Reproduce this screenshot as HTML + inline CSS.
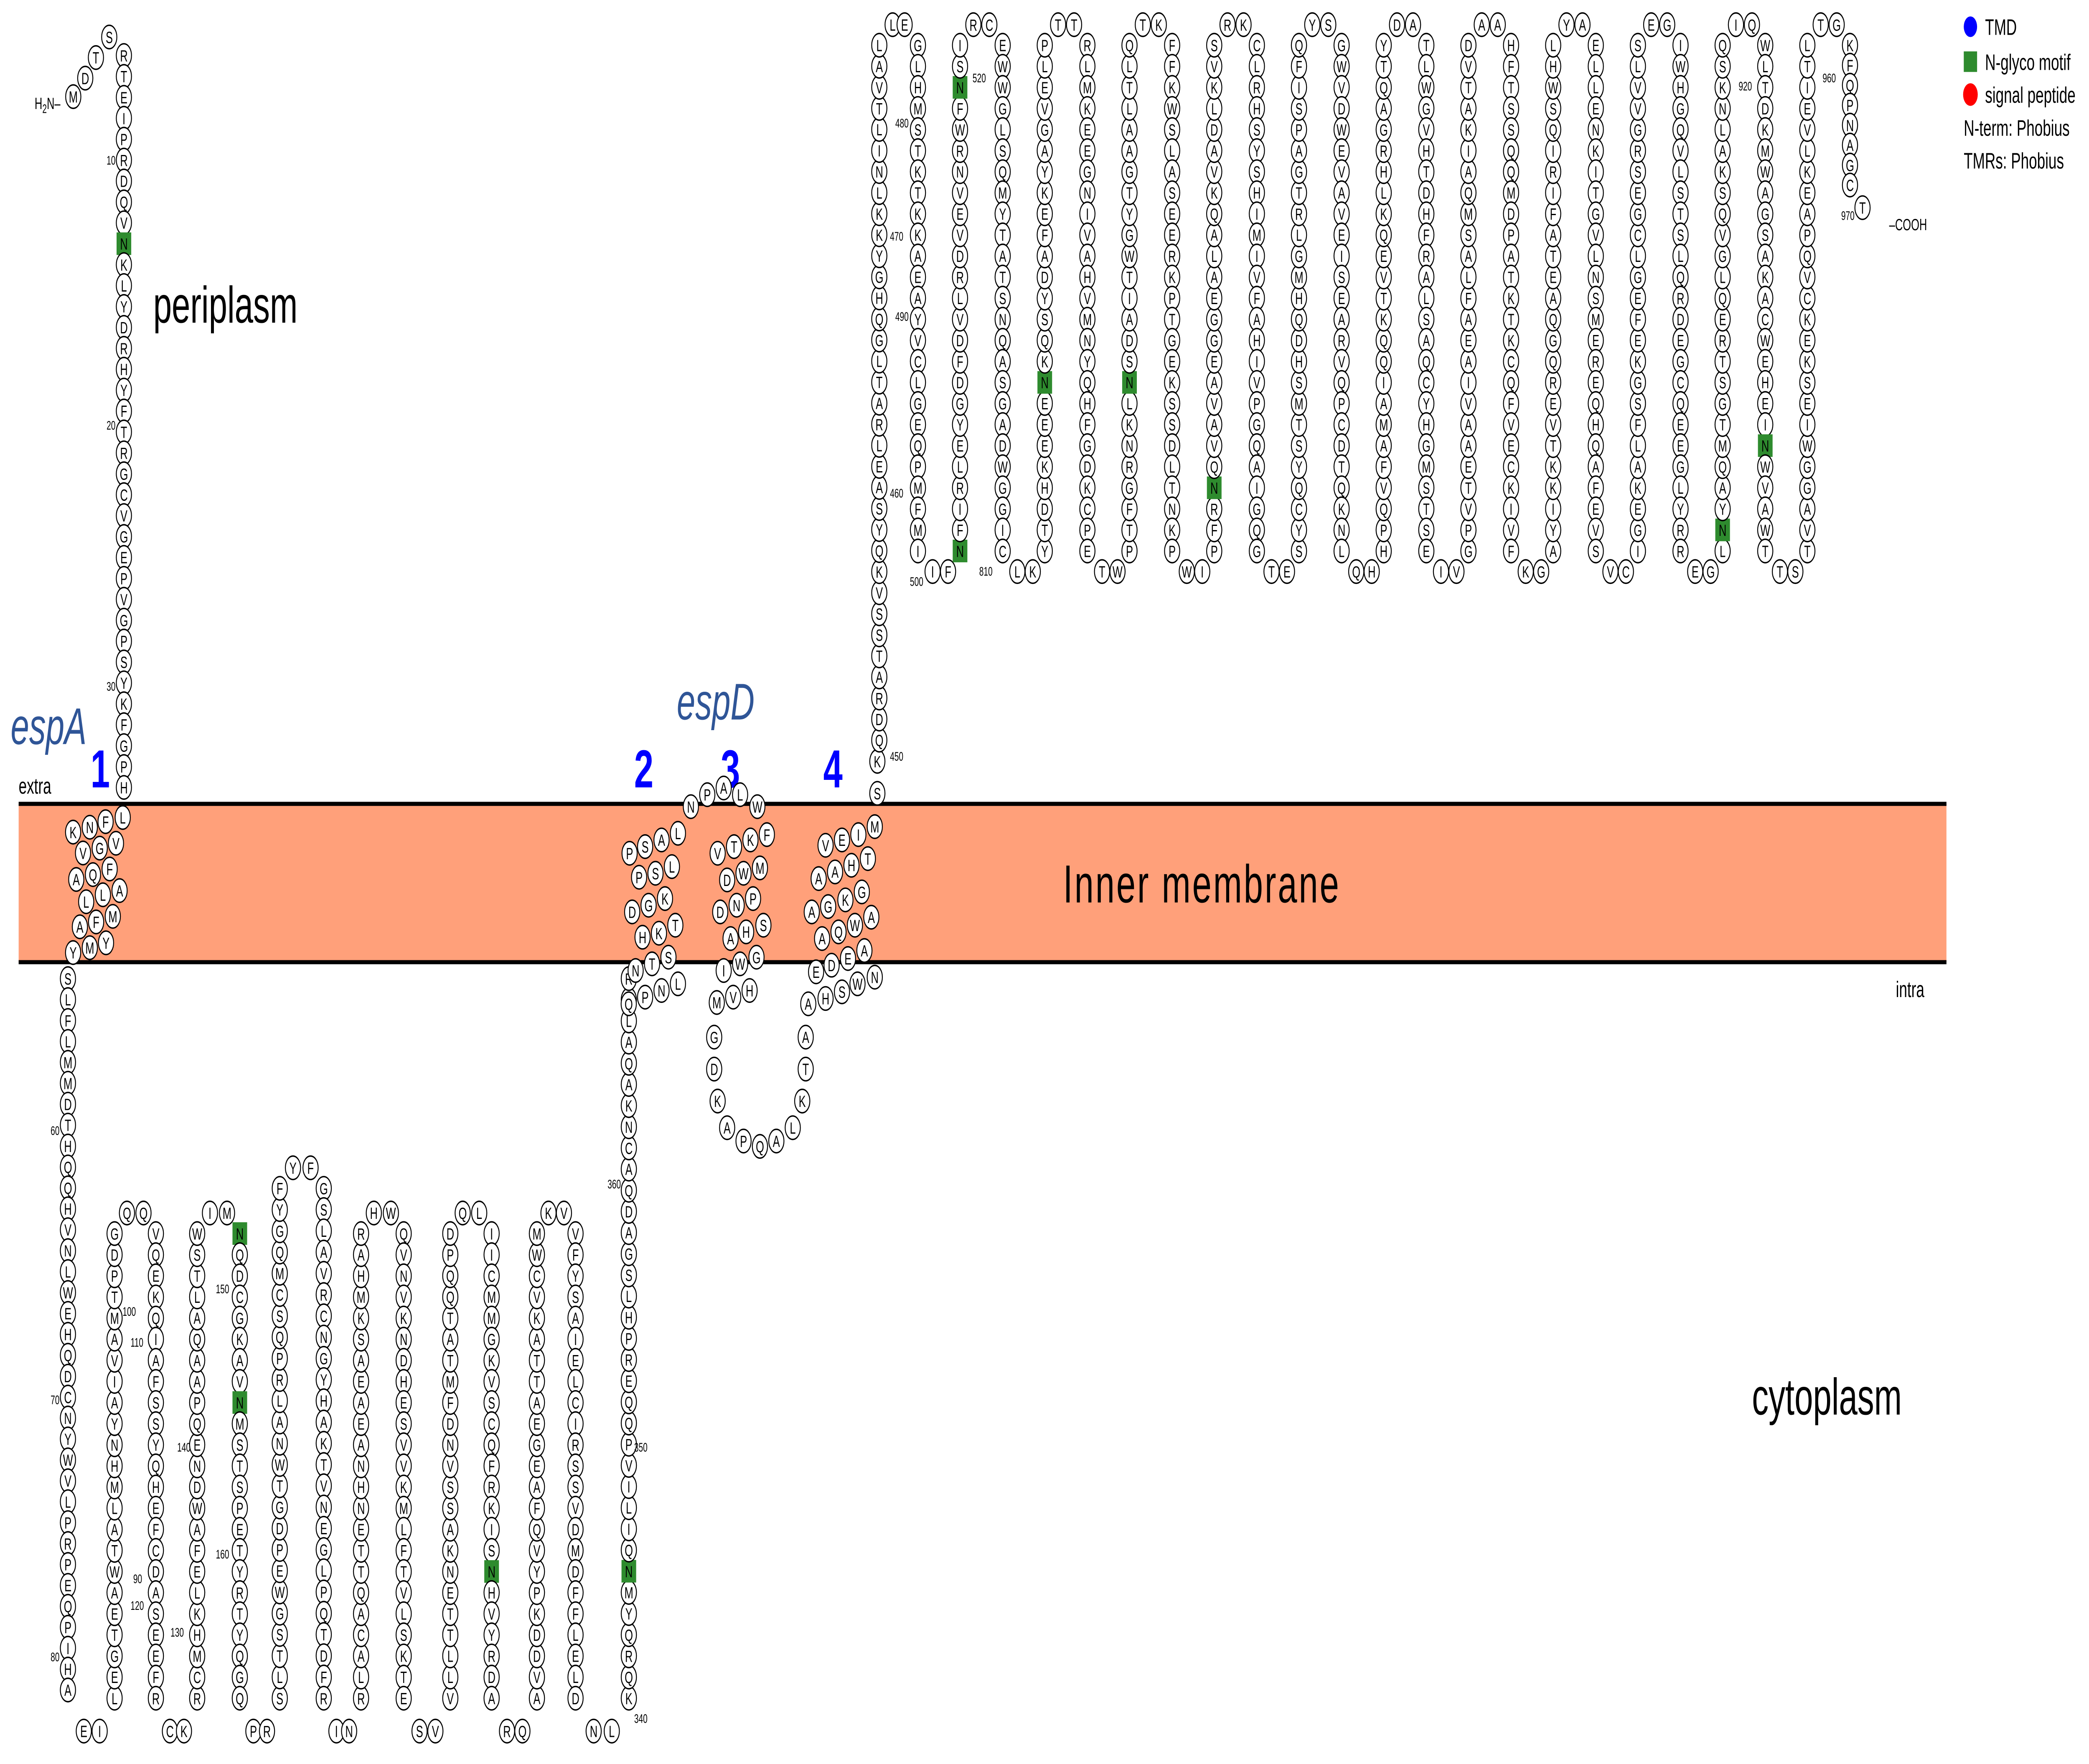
<!DOCTYPE html>
<html><head><meta charset="utf-8">
<style>
html,body{margin:0;padding:0;background:#fff;width:100%;height:100%;overflow:hidden;}
svg{display:block;position:absolute;left:0;top:0;width:100vw;height:100vh;}
text{font-family:"Liberation Sans",sans-serif;}
</style></head>
<body>
<svg id="s" xmlns="http://www.w3.org/2000/svg" viewBox="0 0 1568 858" preserveAspectRatio="none">
<rect x="0" y="0" width="1568" height="858" fill="#fff"/>
<rect x="14" y="391" width="1447" height="77" fill="#FFA07A"/>
<line x1="14" y1="391" x2="1461" y2="391" stroke="#000" stroke-width="2"/>
<line x1="14" y1="468" x2="1461" y2="468" stroke="#000" stroke-width="2"/>
<text x="798" y="439" font-size="26" textLength="207">Inner membrane</text>
<text x="115" y="157" font-size="25">periplasm</text>
<text x="1315" y="688" font-size="25">cytoplasm</text>
<text x="8" y="362" font-size="25" font-style="italic" fill="#2F5597">espA</text>
<text x="508" y="350" font-size="25" font-style="italic" fill="#2F5597">espD</text>
<text x="68" y="383" font-size="26" font-weight="bold" fill="#0000FF">1</text>
<text x="476" y="383" font-size="26" font-weight="bold" fill="#0000FF">2</text>
<text x="541" y="383" font-size="26" font-weight="bold" fill="#0000FF">3</text>
<text x="618" y="383" font-size="26" font-weight="bold" fill="#0000FF">4</text>
<text x="14" y="386" font-size="11">extra</text>
<text x="1423" y="485" font-size="11">intra</text>
<text x="26" y="53" font-size="8">H<tspan font-size="6" dy="2">2</tspan><tspan dy="-2">N–</tspan></text>
<text x="1418" y="112" font-size="8">–COOH</text>
<circle cx="1479" cy="13" r="5" fill="#0000FF"/>
<text x="1490" y="17" font-size="11">TMD</text>
<rect x="1474" y="25" width="10" height="10" fill="#2E8B2E"/>
<text x="1490" y="34" font-size="11">N-glyco motif</text>
<circle cx="1479" cy="46" r="5.5" fill="#FF0000"/>
<text x="1490" y="50" font-size="11">signal peptide</text>
<text x="1474" y="66" font-size="11">N-term: Phobius</text>
<text x="1474" y="82" font-size="11">TMRs: Phobius</text>
<g id="res"></g>
</svg>
<script>
(function(){
var pts=[];
var AA="ACDEFGHIKLMNPQRSTVWYSALKEQTVG";
var seed=7;function rnd(){seed=(seed*9301+49297)%233280;return seed/233280;}
function add(x,y,l){pts.push([x,y,l||AA[Math.floor(rnd()*AA.length)]]);}
function col(x,y1,y2){var n=Math.round(Math.abs(y2-y1)/10.3);for(var i=0;i<=n;i++){add(x,y1+(y2-y1)*i/n);}}
var R=5.7;
add(55,47,"M");add(64,38,"D");add(72,28,"T");add(82,18,"S");
col(93,27,383);
var tm1=[[910,320,"L"],[720,350,"F"],[545,390,"N"],[360,425,"K"],[835,505,"V"],[655,540,"G"],[470,575,"V"],[765,690,"F"],[580,730,"Q"],[395,765,"A"],[875,845,"A"],[690,875,"L"],[505,925,"L"],[800,1030,"M"],[615,1070,"F"],[435,1105,"A"],[725,1220,"Y"],[545,1255,"M"],[360,1290,"Y"]];
tm1.forEach(function(p){add((150+p[0]/3)/4.921,(1850+p[1]/3)/4.921,p[2]);});
var cols=[51,86,117,148,180,210,243,271,303,338,369,403,432,472];
var tops={1:590,3:590,5:568,7:590,9:590,11:590};
col(51,476,822);
for(var i=1;i<cols.length;i++){
  var x=cols[i];
  if(i%2==1){
    var a=cols[i-1];
    add(a+(x-a)*0.34,842);add(a+(x-a)*0.68,842);
    var t=tops[i];col(x,826,t+10);
  } else {
    var a=cols[i-1];var t=tops[i-1];
    add(a+(x-a)*0.3,t);add(a+(x-a)*0.7,t);
    if(i!=cols.length-1) col(x,t+10,826);
  }
}
col(472,826,476);
var z2=[[40,380],[130,355],[225,330],[320,305],[95,470],[190,455],[285,430],[55,600],[150,575],[245,550],[305,650],[115,695],[210,680],[75,820],[170,795],[265,770],[35,945],[130,920],[225,895],[320,870],
[395,205,"N"],[490,160,"P"],[585,135,"A"],[680,160,"L"],[780,205,"W"],
[835,310],[740,330],[645,355],[550,380],[795,435],[700,455],[605,480],[755,550],[660,575],[565,600],[815,650],[715,675],[625,700],[775,770],[680,795],[585,820],[735,895],[640,920],[545,940,"M"],
[530,1070,"G"],[530,1190,"D"],[550,1310,"K"],[605,1410,"A"],[700,1460,"P"],[795,1480,"Q"],[890,1460,"A"],[985,1410,"L"],[1040,1310,"K"],[1060,1190,"T"],[1060,1070,"A"],[1075,945,"A"],
[1175,925],[1270,900],[1360,870],[1460,845],[1120,825],[1210,800],[1305,775],[1400,745],[1155,700],[1250,675],[1345,650],[1440,620],[1095,600],[1190,580],[1290,555],[1385,525],[1135,475],[1230,450],[1325,425],[1420,400],[1175,350],[1270,330],[1365,310],[1460,280,"M"],[1475,155,"S"],[1475,35,"K"]];
z2.forEach(function(p){add((2300+p[0]/1.568)/4.921,(1800+p[1]/1.568)/4.921,p[2]);});
col(660,360,22);
for(var k=0;k<12;k++){
  var L=657+63.6*k,Rr=689+63.6*k; if(k==0)L=660;
  if(k>0) col(L,268,22);
  add(L+10,12);add(Rr-10,12);
  if(k<11){col(Rr,22,268);var nL=657+63.6*(k+1);add(Rr+11,278);add(nL-9,278);}
  else {col(Rr,22,90);add(1398,101,"T");}
}
var green=[[93,117],[720,38],[720,268],[785,190],[848,190],[912,241],[1292,254],[1324,216],[176,602],[180,680],[372,768],[467,768]];
var gset={};
green.forEach(function(g){var bi=-1,bd=1e9;pts.forEach(function(p,i){var d=(p[0]-g[0])*(p[0]-g[0])+(p[1]-g[1])*(p[1]-g[1]);if(d<bd){bd=d;bi=i;}});if(bi>=0)gset[bi]=1;});
var h=[];
pts.forEach(function(p,i){
  if(gset[i]){h.push('<rect x="'+(p[0]-5.5).toFixed(2)+'" y="'+(p[1]-5.5).toFixed(2)+'" width="11" height="11" fill="#2E8B2E"/>');p[2]="N";}
  else h.push('<circle cx="'+p[0].toFixed(2)+'" cy="'+p[1].toFixed(2)+'" r="'+R+'" fill="#fff" stroke="#000" stroke-width="0.7"/>');
  h.push('<text x="'+p[0].toFixed(2)+'" y="'+(p[1]+2.9).toFixed(2)+'" font-size="8" text-anchor="middle">'+p[2]+'</text>');
});
var nums=[[80,80,"10"],[80,209,"20"],[80,336,"30"],[38,552,"60"],[38,683,"70"],[38,808,"80"],[92,640,"100"],[98,655,"110"],[100,770,"90"],[98,783,"120"],[128,796,"130"],[133,706,"140"],[162,629,"150"],[162,758,"160"],[456,578,"360"],[476,706,"350"],[476,838,"340"],[668,370,"450"],[668,242,"460"],[668,117,"470"],[672,62,"480"],[672,156,"490"],[683,285,"500"],[730,40,"520"],[735,280,"810"],[1305,44,"920"],[1368,40,"960"],[1382,107,"970"]];
nums.forEach(function(n){h.push('<text x="'+n[0]+'" y="'+n[1]+'" font-size="6">'+n[2]+'</text>');});
document.getElementById("res").innerHTML=h.join("");
})();
</script>
</body></html>
